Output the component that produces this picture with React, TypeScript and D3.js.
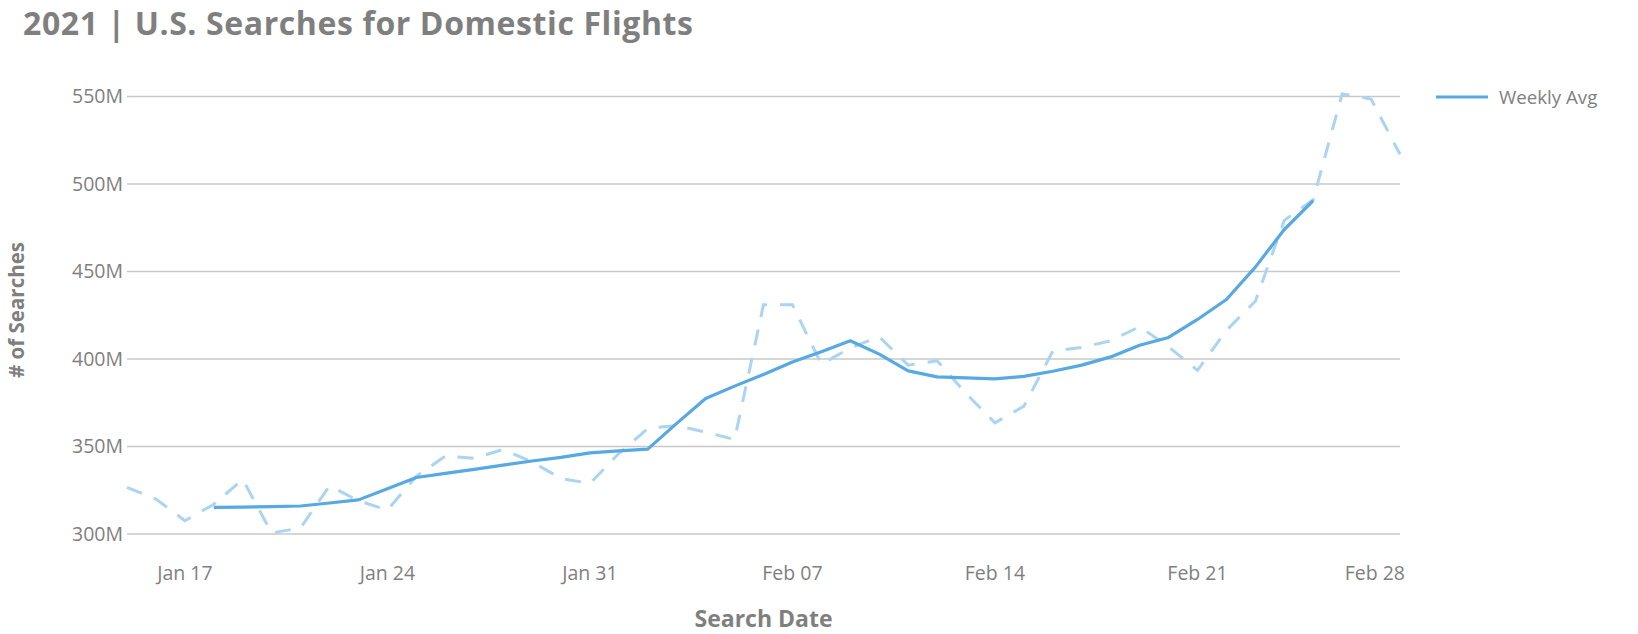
import React from "react";
import * as d3 from "d3";

const DATES = [
  "2021-01-15", "2021-01-16", "2021-01-17", "2021-01-18", "2021-01-19", "2021-01-20", "2021-01-21",
  "2021-01-22", "2021-01-23", "2021-01-24", "2021-01-25", "2021-01-26", "2021-01-27", "2021-01-28",
  "2021-01-29", "2021-01-30", "2021-01-31", "2021-02-01", "2021-02-02", "2021-02-03", "2021-02-04",
  "2021-02-05", "2021-02-06", "2021-02-07", "2021-02-08", "2021-02-09", "2021-02-10", "2021-02-11",
  "2021-02-12", "2021-02-13", "2021-02-14", "2021-02-15", "2021-02-16", "2021-02-17", "2021-02-18",
  "2021-02-19", "2021-02-20", "2021-02-21", "2021-02-22", "2021-02-23", "2021-02-24", "2021-02-25",
  "2021-02-26", "2021-02-27", "2021-02-28",
];

// Daily searches (millions) - dashed line
const DAILY_SEARCHES = [
  326.7, 320, 307.6, 317, 331.2, 300.6, 303.5,
  327.5, 319, 313.7, 333, 344.5, 343.2, 348.3,
  341.2, 331.7, 328.9, 346, 360.3, 362, 358.2,
  354, 431, 431, 397, 406.4, 412.7, 396.5,
  399, 380.3, 363.5, 373, 404.5, 406.6, 410.4,
  418.5, 407, 393.5, 416.4, 433, 479.2, 491,
  551.5, 548.5, 517,
];

// Weekly average (millions) - solid line
const WEEKLY_AVG = [
  null, null, null, 315.2, 315.4, 315.6, 316,
  317.7, 319.5, 325.8, 332.3, 334.6, 336.9, 339.4,
  341.7, 343.8, 346.4, 347.5, 348.5, 363.2, 377.4,
  384.5, 391.2, 398.3, 404.1, 410.4, 402.8, 393.2,
  389.8, 389.2, 388.6, 390.1, 393, 396.5, 401.2,
  407.9, 412.3, 422.6, 434, 452.5, 474, 490.5,
  null, null, null,
];

const Y_TICKS = [300, 350, 400, 450, 500, 550];
const X_TICKS = ["2021-01-17", "2021-01-24", "2021-01-31", "2021-02-07", "2021-02-14", "2021-02-21", "2021-02-28"];

const TITLE = "2021 | U.S. Searches for Domestic Flights";
const X_TITLE = "Search Date";
const Y_TITLE = "# of Searches";
const LEGEND_LABEL = "Weekly Avg";

const W = 1638;
const H = 634;
const M = { left: 127, right: 1400, top: 96.5, bottom: 534 };
const FONT = "'Open Sans', Lato, sans-serif";
const TEXT_GRAY = "#7f7f7f";
const SOLID = "#57a9e2";
const DASHED = "#aad4f1";

export default function App() {
  const parse = d3.timeParse("%Y-%m-%d");
  const dates = DATES.map((d) => parse(d) as Date);
  const x = d3
    .scaleTime()
    .domain([dates[0], dates[dates.length - 1]])
    .range([M.left, M.right]);
  const y = d3.scaleLinear().domain([300, 550]).range([M.bottom, M.top]);
  const fmt = d3.timeFormat("%b %d");

  const daily = dates.map((d, i) => ({ d, v: DAILY_SEARCHES[i] }));
  const weekly = dates.map((d, i) => ({ d, v: WEEKLY_AVG[i] }));

  const line = d3
    .line<{ d: Date; v: number | null }>()
    .defined((p) => p.v != null)
    .x((p) => x(p.d))
    .y((p) => y(p.v as number));

  return (
    <svg
      width={W}
      height={H}
      style={{ position: "absolute", left: 0, top: 0, background: "#fff" }}
      fontFamily={FONT}
    >
      <text x={23} y={34.5} fontSize={32} fontWeight={700} letterSpacing={0.6} fill={TEXT_GRAY}>
        {TITLE}
      </text>

      {Y_TICKS.map((t) => (
        <g key={t}>
          <line x1={M.left} x2={M.right} y1={y(t)} y2={y(t)} stroke="#c8c8c8" strokeWidth={1.3} />
          <text x={M.left - 4} y={y(t)} dy="0.35em" textAnchor="end" fontSize={19.5} fill={TEXT_GRAY}>
            {`${t}M`}
          </text>
        </g>
      ))}

      {X_TICKS.map((t, i) => {
        const d = parse(t) as Date;
        const isLast = i === X_TICKS.length - 1 && x(d) >= M.right - 1;
        return (
          <text
            key={t}
            x={isLast ? M.right + 5 : x(d)}
            y={573}
            dy="0.35em"
            textAnchor={isLast ? "end" : "middle"}
            fontSize={19.5}
            fill={TEXT_GRAY}
          >
            {fmt(d)}
          </text>
        );
      })}

      <path
        d={line(daily) || ""}
        fill="none"
        stroke={DASHED}
        strokeWidth={3}
        strokeDasharray="16 13"
      />
      <path d={line(weekly) || ""} fill="none" stroke={SOLID} strokeWidth={3.2} strokeLinejoin="round" />

      <text x={(M.left + M.right) / 2} y={627} textAnchor="middle" fontSize={23} fontWeight={700} fill={TEXT_GRAY}>
        {X_TITLE}
      </text>
      <text
        transform={`translate(16.5, 310) rotate(-90)`}
        dy="0.35em"
        textAnchor="middle"
        fontSize={20.5}
        fontWeight={700}
        fill={TEXT_GRAY}
      >
        {Y_TITLE}
      </text>

      <line x1={1436} x2={1488} y1={97} y2={97} stroke={SOLID} strokeWidth={3.2} />
      <text x={1499} y={97} dy="0.35em" fontSize={18.7} fill={TEXT_GRAY}>
        {LEGEND_LABEL}
      </text>
    </svg>
  );
}
